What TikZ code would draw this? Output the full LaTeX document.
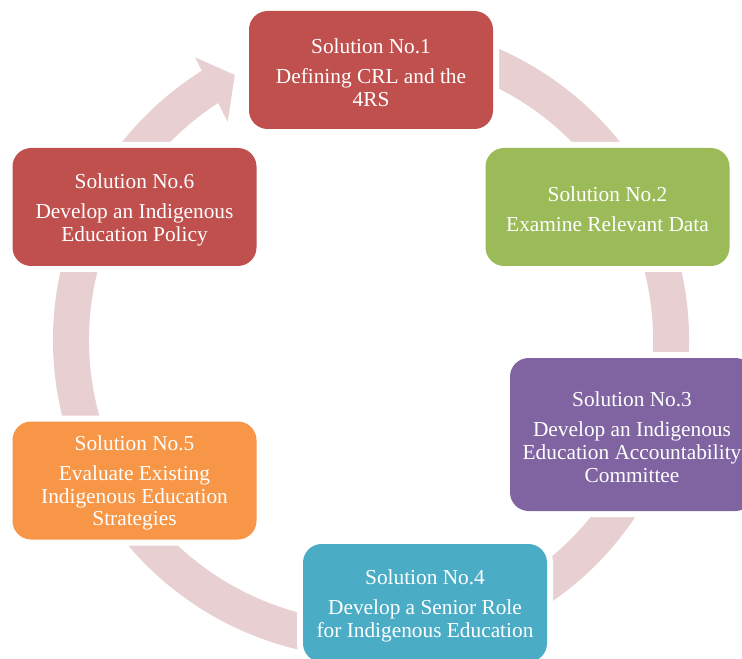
\documentclass[tikz,border=0pt]{standalone}
\usepackage{fontspec}
\setmainfont{Liberation Serif}
\usetikzlibrary{calc}
\definecolor{ringpink}{RGB}{232,208,210}
\definecolor{solred}{HTML}{C0504D}
\definecolor{solgreen}{HTML}{9BBB59}
\definecolor{solpurple}{HTML}{8064A2}
\definecolor{solteal}{HTML}{4BACC6}
\definecolor{solorange}{HTML}{F79646}
% strut that lowers each text block a little inside its box
\newcommand{\toplift}{\rule{0pt}{15pt}}
\tikzset{
  solbox/.style={rectangle, rounded corners=14pt, minimum width=183pt,
    minimum height=88.5pt, inner sep=2pt, align=center, text=white,
    font=\fontsize{16}{17}\selectfont,
    preaction={draw=white, line width=9pt}},
  ringband/.style={draw=ringpink, line width=27pt},
  ringtip/.style={fill=ringpink, draw=none}
}
\begin{document}
\begin{tikzpicture}[x=0.75pt, y=0.75pt]
\useasboundingbox (0,0) rectangle (742,-659);
\clip (0,0) rectangle (742,-659);
% centre of the cycle ring
\coordinate (O) at (371,-340);
% ring running clockwise from Solution 1 round to the arrow head
\draw[ringband] ($(O)+(110:300)$) arc[start angle=110, end angle=-237.8, radius=300];
\fill[ringtip] ($(O)+(123.3:261)$) -- ($(O)+(121.9:333)$) -- ($(O)+(117.2:298)$) -- cycle;
% solution boxes
\node[solbox, fill=solred] (s1) at (371,-70)
  {\toplift Solution No.1\\[5.5pt]Defining CRL and the\\4RS};
\node[solbox, fill=solgreen] (s2) at (607.5,-207)
  {\toplift Solution No.2\\[5.5pt]Examine Relevant Data};
\node[solbox, fill=solpurple, minimum height=114.75pt] (s3) at (632,-434.5)
  {\toplift Solution No.3\\[5.5pt]Develop an Indigenous\\Education Accountability\\Committee};
\node[solbox, fill=solteal] (s4) at (425,-603)
  {\toplift Solution No.4\\[5.5pt]Develop a Senior Role\\for Indigenous Education};
\node[solbox, fill=solorange] (s5) at (134.5,-480.5)
  {\toplift Solution No.5\\[5.5pt]Evaluate Existing\\Indigenous Education\\Strategies};
\node[solbox, fill=solred] (s6) at (134.5,-207)
  {\toplift Solution No.6\\[5.5pt]Develop an Indigenous\\Education Policy};
\end{tikzpicture}
\end{document}
